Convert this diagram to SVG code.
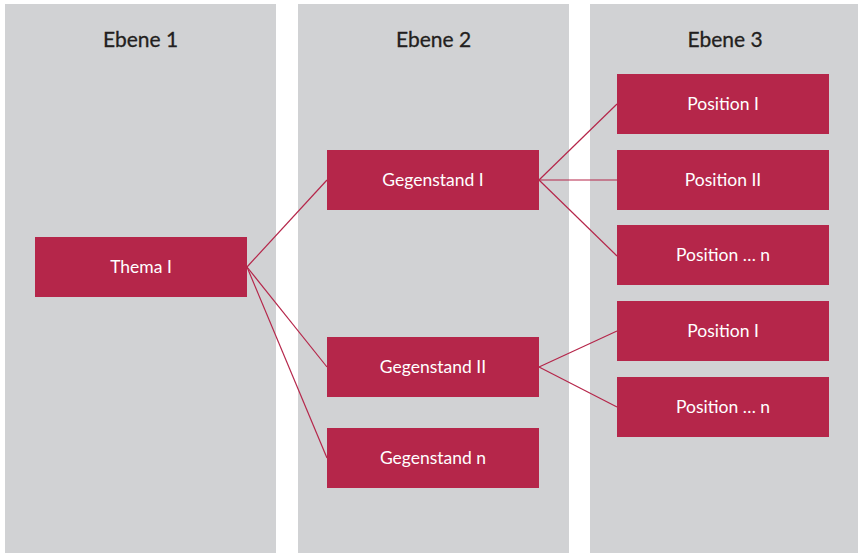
<svg xmlns="http://www.w3.org/2000/svg" width="858" height="553" viewBox="0 0 858 553">
<style>
.col{fill:#d1d2d4}
.hd{font-family:Lato,"Open Sans","Liberation Sans",sans-serif;font-size:21px;fill:#231f20;text-anchor:middle;stroke:#231f20;stroke-width:0.3}
.box{fill:#b5264a}
.lb{font-family:Lato,"Open Sans","Liberation Sans",sans-serif;font-size:17.5px;fill:#ffffff;text-anchor:middle}
.cn{stroke:#b5264a;stroke-width:1.2;fill:none}
</style>
<rect width="858" height="553" fill="#ffffff"/>
<g id="columns">
<rect class="col" x="5" y="4" width="271" height="549"/>
<rect class="col" x="298" y="4" width="271" height="549"/>
<rect class="col" x="590" y="4" width="268" height="549"/>
<text class="hd" x="140.5" y="47">Ebene 1</text>
<text class="hd" x="433.5" y="47">Ebene 2</text>
<text class="hd" x="725" y="47">Ebene 3</text>
</g>
<g id="connectors">
<line class="cn" x1="247" y1="267" x2="327" y2="180"/>
<line class="cn" x1="247" y1="267" x2="327" y2="367"/>
<line class="cn" x1="247" y1="267" x2="327" y2="458"/>
<line class="cn" x1="539" y1="180" x2="617" y2="104"/>
<line class="cn" x1="539" y1="180" x2="617" y2="180"/>
<line class="cn" x1="539" y1="180" x2="617" y2="256"/>
<line class="cn" x1="539" y1="367" x2="617" y2="331"/>
<line class="cn" x1="539" y1="367" x2="617" y2="407"/>
</g>
<g id="thema1"><rect class="box" x="35" y="237" width="212" height="60"/><text class="lb" x="141" y="273">Thema I</text></g>
<g id="gegenstand1"><rect class="box" x="327" y="150" width="212" height="60"/><text class="lb" x="433" y="186">Gegenstand I</text></g>
<g id="gegenstand2"><rect class="box" x="327" y="337" width="212" height="60"/><text class="lb" x="433" y="373">Gegenstand II</text></g>
<g id="gegenstandn"><rect class="box" x="327" y="428" width="212" height="60"/><text class="lb" x="433" y="464">Gegenstand n</text></g>
<g id="position1a"><rect class="box" x="617" y="74" width="212" height="60"/><text class="lb" x="723" y="110">Position I</text></g>
<g id="position2a"><rect class="box" x="617" y="150" width="212" height="60"/><text class="lb" x="723" y="186">Position II</text></g>
<g id="positionna"><rect class="box" x="617" y="225" width="212" height="60"/><text class="lb" x="723" y="261">Position … n</text></g>
<g id="position1b"><rect class="box" x="617" y="301" width="212" height="60"/><text class="lb" x="723" y="337">Position I</text></g>
<g id="positionnb"><rect class="box" x="617" y="377" width="212" height="60"/><text class="lb" x="723" y="413">Position … n</text></g>
</svg>
